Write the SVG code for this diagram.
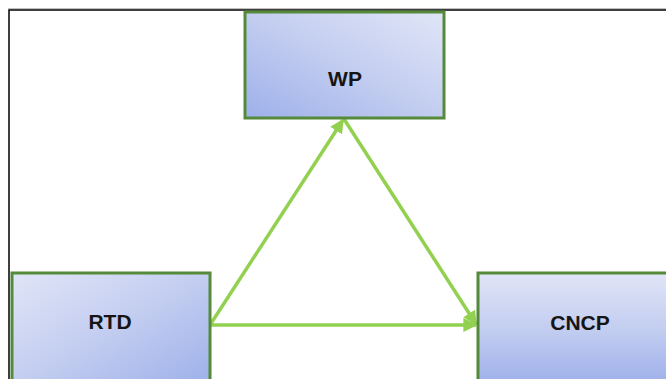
<svg xmlns="http://www.w3.org/2000/svg" width="666" height="379" viewBox="0 0 666 379">
  <defs>
    <linearGradient id="gWP" x1="1" y1="0" x2="0" y2="1">
      <stop offset="0" stop-color="#e0e5f7"/>
      <stop offset="0.5" stop-color="#c3cdf0"/>
      <stop offset="1" stop-color="#9db0ea"/>
    </linearGradient>
    <linearGradient id="gRTD" x1="0" y1="0" x2="1" y2="1">
      <stop offset="0" stop-color="#e0e5f7"/>
      <stop offset="0.5" stop-color="#c3cdf0"/>
      <stop offset="1" stop-color="#9db0ea"/>
    </linearGradient>
    <linearGradient id="gCNCP" x1="0" y1="0" x2="0" y2="1">
      <stop offset="0" stop-color="#e0e5f7"/>
      <stop offset="0.5" stop-color="#c3cdf0"/>
      <stop offset="1" stop-color="#9db0ea"/>
    </linearGradient>
    <marker id="arrow" viewBox="0 0 10 10" refX="9" refY="5" markerWidth="4" markerHeight="4" orient="auto" markerUnits="strokeWidth">
      <path d="M0,0 L10,5 L0,10 z" fill="#92d050"/>
    </marker>
  </defs>
  <style>
    .box { stroke: #558a3a; stroke-width: 3; }
    .label { font-family: "Liberation Sans", Arial, sans-serif; font-weight: bold; font-size: 21px; fill: #151515; text-anchor: middle; dominant-baseline: central; }
    .link { stroke: #92d050; stroke-width: 3.5; fill: none; marker-end: url(#arrow); }
  </style>
  <rect width="666" height="379" fill="#ffffff"/>
  <!-- outer frame -->
  <line x1="8" y1="8.5" x2="666" y2="8.5" stroke="#c0c0c0" stroke-width="1"/>
  <path d="M9,379 V10 H666" fill="none" stroke="#000000" stroke-width="1.5"/>

  <g id="connectors">
    <line class="link" x1="210" y1="325" x2="343" y2="120"/>
    <line class="link" x1="344" y1="119" x2="476" y2="324"/>
    <line class="link" x1="210" y1="325" x2="476" y2="325"/>
  </g>

  <g id="node-wp">
    <rect class="box" x="245" y="12" width="199" height="106" fill="url(#gWP)"/>
    <text class="label" x="345" y="78">WP</text>
  </g>
  <g id="node-rtd">
    <rect class="box" x="12" y="273" width="198" height="112" fill="url(#gRTD)"/>
    <text class="label" x="110" y="321">RTD</text>
  </g>
  <g id="node-cncp">
    <rect class="box" x="478" y="273" width="196" height="112" fill="url(#gCNCP)"/>
    <text class="label" x="580" y="322">CNCP</text>
  </g>
</svg>
